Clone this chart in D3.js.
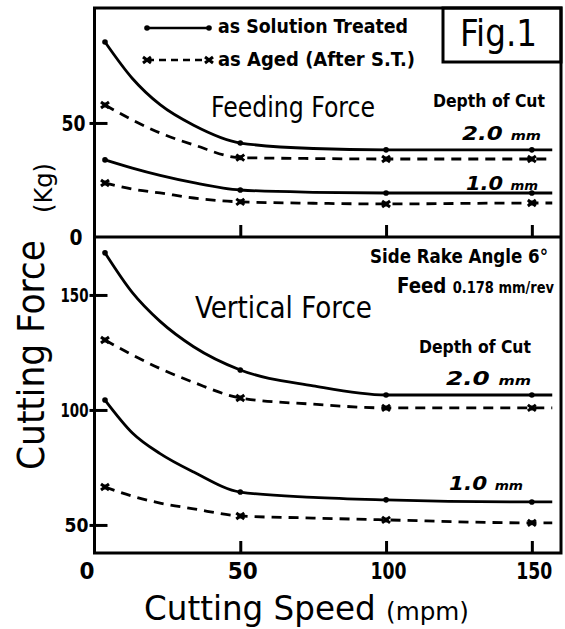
<!DOCTYPE html>
<html><head><meta charset="utf-8">
<script src="https://cdn.jsdelivr.net/npm/d3@7"></script>
<style>
html,body{margin:0;padding:0;background:#fff;}
svg{display:block;}
text{font-family:"DejaVu Sans Condensed","DejaVu Sans",sans-serif;fill:#000;}
</style></head>
<body>
<svg id="chart" width="565" height="629"></svg>
<script>
// ---- data ----
const speeds = [3.6, 13, 22.5, 34, 50, 75, 100, 150, 157];      // mpm
const markerSpeeds = [3.6, 50, 100, 150];
// Feeding force (kg)
const feedST2 = [85.5, 69.5, 58, 49, 41.2, 38.8, 38.2, 38.2, 38.2];
const feedAg2 = [57.9, 51.3, 45.6, 40.4, 34.8, 34.4, 34.2, 34.2, 34.2];
const feedST1 = [33.8, 30.2, 27, 23.8, 20.6, 19.6, 19.3, 19.3, 19.3];
const feedAg1 = [23.7, 21, 19.3, 17.1, 15.4, 14.8, 14.5, 14.9, 14.9];
// Vertical force (kg)
const vertST2 = [168.3, 151, 138.5, 127.5, 117.4, 110.5, 106.5, 106.5, 106.5];
const vertAg2 = [130.4, 123.9, 118, 112, 105.2, 102.5, 100.9, 100.9, 100.9];
const vertST1 = [104.3, 90, 81, 73, 64.3, 62, 60.9, 60, 60];
const vertAg1 = [66.5, 62.5, 59.5, 57, 53.9, 53, 52.2, 50.9, 50.9];
const xTicks = [0, 50, 100, 150];
const feedTicks = [0, 50];
const vertTicks = [50, 100, 150];

const svg = d3.select("#chart");
const L = 94.5, R = 561, T = 8, MID = 237, B = 553;

const x = d3.scaleLinear().domain([0, 160]).range([L, R]);
const yF = d3.scaleLinear().domain([0, 100.4]).range([MID, T]);
const yV = d3.scaleLinear().domain([37.8, 175.2]).range([B, MID]);

function fitText(sel, w){ return sel.attr("textLength", w).attr("lengthAdjust","spacingAndGlyphs"); }

// ---- frames ----
svg.append("rect").attr("x",L).attr("y",T).attr("width",R-L).attr("height",B-T)
  .attr("fill","none").attr("stroke","#000").attr("stroke-width",3);
svg.append("line").attr("x1",L).attr("x2",R).attr("y1",MID).attr("y2",MID)
  .attr("stroke","#000").attr("stroke-width",3);
// Fig.1 box
svg.append("rect").attr("x",443).attr("y",T).attr("width",R-443).attr("height",62-T)
  .attr("fill","none").attr("stroke","#000").attr("stroke-width",3);
fitText(svg.append("text").attr("x",460).attr("y",46).attr("font-size",38).text("Fig.1"),77);

// ---- axes ----
function styleAxis(g){ g.select(".domain").remove(); g.selectAll("line").attr("stroke","#000").attr("stroke-width",3); }
svg.append("g").attr("transform",`translate(0,${MID})`)
  .call(d3.axisTop(x).tickValues([50,100,150]).tickSize(12).tickFormat(""))
  .call(styleAxis);
svg.append("g").attr("transform",`translate(0,${B})`)
  .call(d3.axisTop(x).tickValues([50,100,150]).tickSize(12).tickFormat(""))
  .call(styleAxis);
const xl = svg.append("g").attr("transform",`translate(0,${B})`)
  .call(d3.axisBottom(x).tickValues(xTicks).tickSize(0).tickPadding(9).tickFormat(d3.format("d")))
  .call(styleAxis);
xl.selectAll("text").attr("font-size",23).attr("font-weight","bold").attr("dy","0.75em")
  .attr("dx", d => d === 0 ? -8 : 2)
  .each(function(d){ if(d>0) fitText(d3.select(this), d>=100 ? 36 : 30); else fitText(d3.select(this),15); });

svg.append("g").attr("transform",`translate(${L-5},0)`)
  .call(d3.axisRight(yF).tickValues([50]).tickSize(18).tickFormat(""))
  .call(styleAxis);
svg.append("g").attr("transform",`translate(${L-5},0)`)
  .call(d3.axisRight(yV).tickValues(vertTicks).tickSize(18).tickFormat(""))
  .call(styleAxis);
const yl1 = svg.append("g").attr("transform",`translate(${L-6},0)`)
  .call(d3.axisLeft(yF).tickValues(feedTicks).tickSize(0).tickPadding(3))
  .call(styleAxis);
yl1.selectAll("text").attr("font-size",22).attr("font-weight","bold")
  .attr("dx", d => d===0 ? -3 : 0)
  .each(function(d){ fitText(d3.select(this), d===0 ? 13 : 24); });
const yl2 = svg.append("g").attr("transform",`translate(${L-3},0)`)
  .call(d3.axisLeft(yV).tickValues(vertTicks).tickSize(0).tickPadding(3))
  .call(styleAxis);
yl2.selectAll("text").attr("font-size",19).attr("font-weight","bold")
  .each(function(d){ fitText(d3.select(this), d>=100 ? 28 : 24); });

// axis titles
const xt = svg.append("text").attr("x",144).attr("y",620).attr("font-size",33);
xt.append("tspan").text("Cutting Speed ");
xt.append("tspan").attr("font-size",25).text("(mpm)");
fitText(xt, 325);
fitText(svg.append("text").attr("transform","translate(44,470) rotate(-90)").attr("font-size",38).text("Cutting Force"),230);
fitText(svg.append("text").attr("transform","translate(52,213) rotate(-90)").attr("font-size",24).text("(Kg)"),50);

// ---- series ----
const seriesList = [
  {y:yF, v:feedST2, solid:true}, {y:yF, v:feedAg2, solid:false},
  {y:yF, v:feedST1, solid:true}, {y:yF, v:feedAg1, solid:false},
  {y:yV, v:vertST2, solid:true}, {y:yV, v:vertAg2, solid:false},
  {y:yV, v:vertST1, solid:true}, {y:yV, v:vertAg1, solid:false}
];
const line = d3.line().curve(d3.curveMonotoneX);
seriesList.forEach(s => {
  const pts = speeds.map((sp,i) => [x(sp), s.y(s.v[i])]);
  svg.append("path").attr("d", line(pts)).attr("fill","none").attr("stroke","#000")
    .attr("stroke-width", 2.8).attr("stroke-dasharray", s.solid ? null : "10,7");
  const mk = speeds.map((sp,i)=>({sp, v:s.v[i]})).filter(d => markerSpeeds.includes(d.sp));
  if (s.solid) {
    svg.selectAll(null).data(mk).enter().append("circle")
      .attr("cx", d=>x(d.sp)).attr("cy", d=>s.y(d.v)).attr("r",2.8).attr("fill","#000");
  } else {
    mk.forEach(d => {
      const cx = x(d.sp), cy = s.y(d.v);
      svg.append("path").attr("d",`M${cx-4},${cy-3}L${cx+4},${cy+3}M${cx-4},${cy+3}L${cx+4},${cy-3}`)
        .attr("stroke","#000").attr("stroke-width",3);
      svg.append("circle").attr("cx",cx).attr("cy",cy).attr("r",2.5).attr("fill","#000");
    });
  }
});

// ---- legend ----
svg.append("line").attr("x1",147).attr("x2",209).attr("y1",28).attr("y2",28).attr("stroke","#000").attr("stroke-width",2.5);
[147,209].forEach(cx => svg.append("circle").attr("cx",cx).attr("cy",28).attr("r",2.8).attr("fill","#000"));
svg.append("line").attr("x1",147).attr("x2",209).attr("y1",60).attr("y2",60).attr("stroke","#000").attr("stroke-width",2.5).attr("stroke-dasharray","7,5");
[147,209].forEach(cx => {
  svg.append("path").attr("d",`M${cx-4},${57}L${cx+4},${63}M${cx-4},${63}L${cx+4},${57}`).attr("stroke","#000").attr("stroke-width",3);
});
fitText(svg.append("text").attr("x",218).attr("y",33).attr("font-size",20).attr("font-weight","bold").text("as Solution Treated"),190);
fitText(svg.append("text").attr("x",218).attr("y",66).attr("font-size",20).attr("font-weight","bold").text("as Aged (After S.T.)"),197);

// ---- annotations ----
fitText(svg.append("text").attr("x",211).attr("y",117).attr("font-size",28).text("Feeding Force"),164);
fitText(svg.append("text").attr("x",433).attr("y",107).attr("font-size",17).attr("font-weight","bold").text("Depth of Cut"),112);
function depthLabel(xp, yp, txt, w){
  const t = svg.append("text").attr("x",xp).attr("y",yp).attr("font-size",19).attr("font-weight","bold").attr("font-style","italic");
  t.append("tspan").text(txt+" ");
  t.append("tspan").attr("font-size",12).text("mm");
  fitText(t, w);
}
depthLabel(462, 140, "2.0", 79);
depthLabel(466, 190, "1.0", 72);

fitText(svg.append("text").attr("x",370).attr("y",263).attr("font-size",19).attr("font-weight","bold").text("Side Rake Angle 6°"),178);
const fd = svg.append("text").attr("x",397).attr("y",293).attr("font-size",21).attr("font-weight","bold");
fd.append("tspan").text("Feed ");
fd.append("tspan").attr("font-size",15).text("0.178 mm/rev");
fitText(fd, 157);
fitText(svg.append("text").attr("x",195).attr("y",318).attr("font-size",31).text("Vertical Force"),177);
fitText(svg.append("text").attr("x",419).attr("y",353).attr("font-size",18).attr("font-weight","bold").text("Depth of Cut"),112);
depthLabel(446, 385, "2.0", 85);
depthLabel(449, 490, "1.0", 74);
</script>
</body></html>
